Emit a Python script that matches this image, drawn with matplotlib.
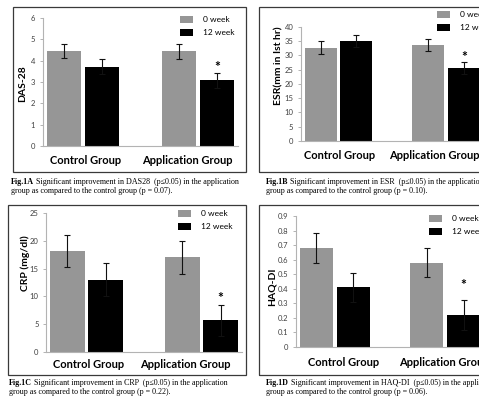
import matplotlib
matplotlib.use('Agg')
import matplotlib.pyplot as plt
from matplotlib.patches import Rectangle

W, H = 479, 399

groups = ['Control Group', 'Application Group']
series = ['0 week', '12 week']

# Fig 1A - DAS-28
das_0wk = [4.46, 4.44]
das_12wk = [3.72, 3.09]
das_err_0wk = [0.33, 0.35]
das_err_12wk = [0.35, 0.35]
das_ticks = [0, 1, 2, 3, 4, 5, 6]
das_ticklabels = ['0', '1', '2', '3', '4', '5', '6']

# Fig 1B - ESR
esr_0wk = [32.7, 33.6]
esr_12wk = [35.1, 25.4]
esr_err_0wk = [2.3, 2.1]
esr_err_12wk = [2.1, 2.1]
esr_ticks = [0, 5, 10, 15, 20, 25, 30, 35, 40]
esr_ticklabels = ['0', '5', '10', '15', '20', '25', '30', '35', '40']

# Fig 1C - CRP
crp_0wk = [18.1, 17.0]
crp_12wk = [13.0, 5.7]
crp_err_0wk = [2.9, 2.9]
crp_err_12wk = [3.0, 2.8]
crp_ticks = [0, 5, 10, 15, 20, 25]
crp_ticklabels = ['0', '5', '10', '15', '20', '25']

# Fig 1D - HAQ-DI
haq_0wk = [0.68, 0.58]
haq_12wk = [0.41, 0.22]
haq_err_0wk = [0.10, 0.10]
haq_err_12wk = [0.10, 0.10]
haq_ticks = [0, 0.1, 0.2, 0.3, 0.4, 0.5, 0.6, 0.7, 0.8, 0.9]
haq_ticklabels = ['0', '0.1', '0.2', '0.3', '0.4', '0.5', '0.6', '0.7', '0.8', '0.9']

captions = [
    ('Fig.1A', 'Significant improvement in DAS28  (p\u22640.05) in the application',
     'group as compared to the control group (p = 0.07).'),
    ('Fig.1B', 'Significant improvement in ESR  (p\u22640.05) in the application',
     'group as compared to the control group (p = 0.10).'),
    ('Fig.1C', 'Significant improvement in CRP  (p\u22640.05) in the application',
     'group as compared to the control group (p = 0.22).'),
    ('Fig.1D', 'Significant improvement in HAQ-DI  (p\u22640.05) in the application',
     'group as compared to the control group (p = 0.06).'),
]

GRAY = '#969696'
AXC = '#b3b3b3'
UI = ['Lato', 'DejaVu Sans']
SERIF = ['Liberation Serif', 'DejaVu Serif']

fig = plt.figure(figsize=(W / 100, H / 100), dpi=100)


def fx(x):
    return x / W


def fy(y):
    return 1 - y / H


def panel(box, c0, gs, y0, yt, ymax, v0, v12, e0, e12, ticks, ticklabels,
          ylabel, ylab_xy, leg_xy, star_pad, lab_dx, lab_dy, cap, cap_xy):
    # frame round the chart
    bx0, by0, bx1, by1 = box
    fig.add_artist(Rectangle((fx(bx0), fy(by1)), (bx1 - bx0) / W, (by1 - by0) / H,
                             transform=fig.transFigure, fill=False,
                             edgecolor='#3a3a3a', lw=0.9))
    left = c0 - 0.35 * gs
    ax = fig.add_axes([fx(left), fy(y0), 1.7 * gs / W, (y0 - yt) / H])
    ax.set_xlim(-0.35, 1.35)
    ax.set_ylim(0, ymax)
    ax.patch.set_alpha(0)
    x = [0, 1]
    off, w = 0.166, 0.298
    ekw = dict(elinewidth=0.8, ecolor='#111111', capthick=0.8)
    b0 = ax.bar([i - off for i in x], v0, w, color=GRAY, yerr=e0, capsize=2.4,
                error_kw=ekw, label=series[0])
    b1 = ax.bar([i + off for i in x], v12, w, color='black', yerr=e12, capsize=2.4,
                error_kw=ekw, label=series[1])
    for s in ['top', 'right']:
        ax.spines[s].set_visible(False)
    for s in ['left', 'bottom']:
        ax.spines[s].set_color(AXC)
        ax.spines[s].set_linewidth(0.8)
    ax.set_yticks(ticks, ticklabels)
    ax.tick_params(axis='y', length=2.5, width=0.7, color=AXC, labelsize=5.5,
                   labelcolor='#404040', pad=3)
    for t in ax.get_yticklabels():
        t.set_family(UI)
    ax.set_xticks([])
    # star over the application group at 12 weeks
    ax.annotate('*', xy=(1 + off, v12[1] + e12[1]), xytext=(0, star_pad),
                textcoords='offset pixels', ha='center', va='center',
                fontsize=10, fontweight='bold', family=UI)
    # group labels
    for i, g in enumerate(groups):
        ax.annotate(g, xy=(x[i], 0), xycoords=('data', 'axes fraction'),
                    xytext=(lab_dx[i], -lab_dy), textcoords='offset pixels',
                    ha='center', va='center', fontsize=8, fontweight='bold',
                    family=UI, color='black', annotation_clip=False)
    fig.text(fx(ylab_xy[0]), fy(ylab_xy[1]), ylabel, rotation=90, ha='center',
             va='center', fontsize=7.5, fontweight='bold', family=UI)
    ax.legend(handles=[b0, b1], loc='upper left',
              bbox_to_anchor=(fx(leg_xy[0]), fy(leg_xy[1])),
              bbox_transform=fig.transFigure, frameon=False,
              prop={'family': UI, 'size': 6}, handlelength=1.6, handleheight=0.9,
              handletextpad=1.2, labelspacing=0.65, borderpad=0, borderaxespad=0)
    # caption below the frame
    tb = fig.text(fx(cap_xy[0]), fy(cap_xy[1]), cap[0], ha='left', va='center',
                  fontsize=5.8, fontweight='bold', family=SERIF)
    ax.annotate(' ' + cap[1], xy=(1, 0), xycoords=tb, va='bottom', ha='left',
                fontsize=5.8, family=SERIF, annotation_clip=False)
    fig.text(fx(cap_xy[0]), fy(cap_xy[1] + 9), cap[2], ha='left', va='center',
             fontsize=5.8, family=SERIF)
    return ax


panel((13, 7, 246, 172), 83, 114.75, 146, 18, 6, das_0wk, das_12wk,
      das_err_0wk, das_err_12wk, das_ticks, das_ticklabels, 'DAS-28', (23, 84),
      (180, 16), 6, (3, -10), 14, captions[0], (11, 181.5))
panel((259, 7, 490, 172), 338.5, 107.5, 141, 26.7, 40, esr_0wk, esr_12wk,
      esr_err_0wk, esr_err_12wk, esr_ticks, esr_ticklabels, 'ESR(mm in Ist hr)',
      (279, 66), (437, 11), 5, (1, -12), 15, captions[1], (266, 181.5))
panel((8, 205, 246, 375), 86.5, 115, 352, 213, 25, crp_0wk, crp_12wk,
      crp_err_0wk, crp_err_12wk, crp_ticks, crp_ticklabels, 'CRP (mg/dl)',
      (25, 263), (178, 210), 7, (2, -16), 12, captions[2], (9, 383))
panel((259, 205, 490, 375), 334.75, 110.5, 347, 216, 0.9, haq_0wk, haq_12wk,
      haq_err_0wk, haq_err_12wk, haq_ticks, haq_ticklabels, 'HAQ-DI',
      (272, 287), (429, 215), 15, (9, -1), 15, captions[3], (266, 383))

fig.savefig('out.png', dpi=100)
